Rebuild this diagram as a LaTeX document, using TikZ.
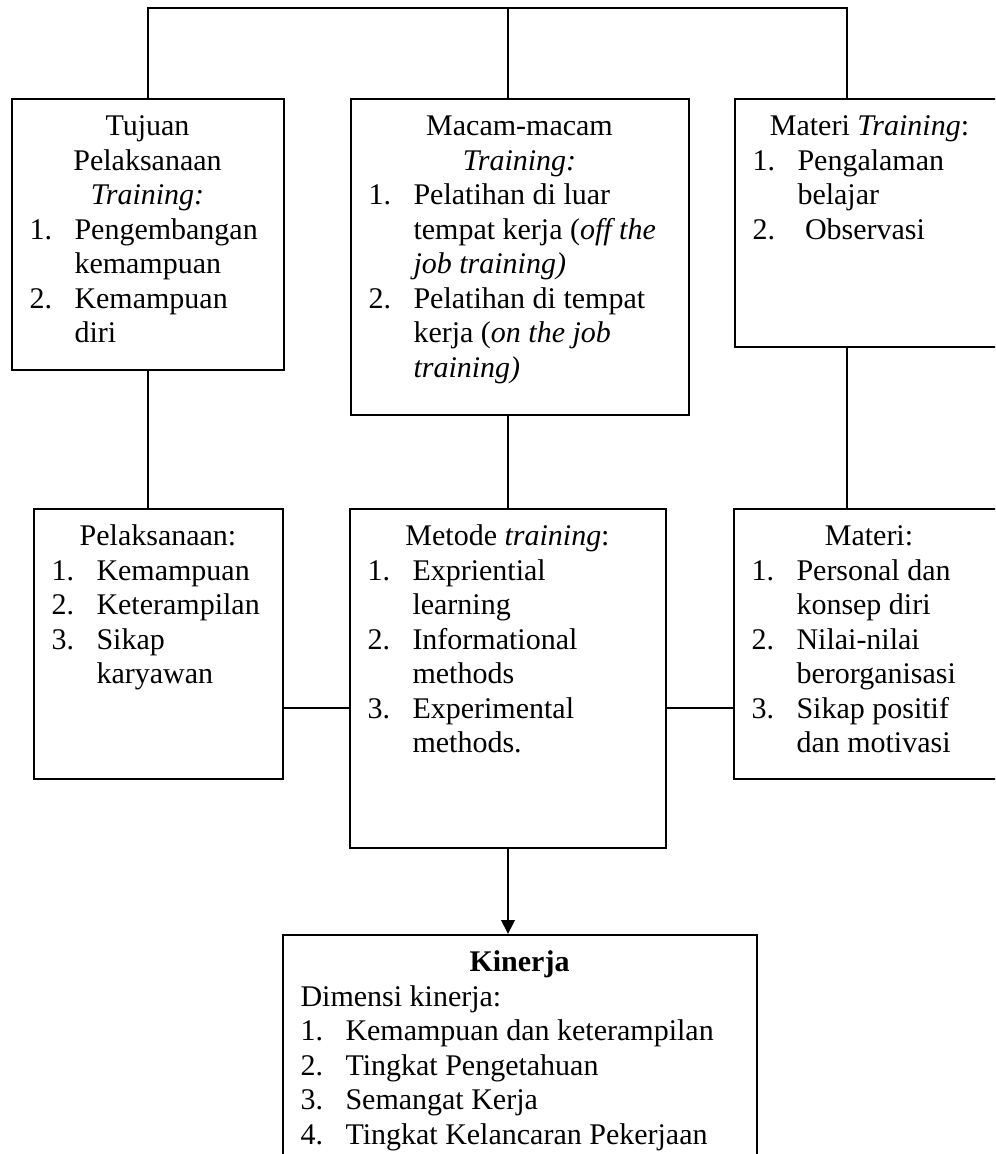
\documentclass[tikz,border=0pt]{standalone}
\usepackage{fontspec}
\setmainfont{Liberation Serif}
\usetikzlibrary{arrows.meta, positioning}

\newlength{\unitpx}
\setlength{\unitpx}{0.4pt}
\newcommand{\judul}[1]{{\centering\strut #1\par}}

\begin{document}
\begin{tikzpicture}[
  x=0.4pt, y=-0.4pt,
  kotak/.style={rectangle, draw, line width=0.8pt, anchor=north west, inner sep=0pt},
  isi/.style={inner sep=0pt, font=\fontsize{12}{13.8}\selectfont},
  garis/.style={line width=0.8pt},
  >={Triangle[length=5.6pt, width=5.4pt]}
]
\useasboundingbox (0,0) rectangle (995,1154);
\clip (0,0) rectangle (995,1154);

% kotak-kotak
\node[kotak, minimum width=272\unitpx, minimum height=271\unitpx] (tujuan) at (11,98) {};
\node[kotak, minimum width=338\unitpx, minimum height=316\unitpx] (macam) at (350,98) {};
\node[kotak, minimum width=270\unitpx, minimum height=248\unitpx] (materiT) at (734,98) {};
\node[kotak, minimum width=249\unitpx, minimum height=270\unitpx] (pelaks) at (33,508) {};
\node[kotak, minimum width=316\unitpx, minimum height=339\unitpx] (metode) at (349,508) {};
\node[kotak, minimum width=271\unitpx, minimum height=270\unitpx] (materi) at (733,508) {};
\node[kotak, minimum width=474\unitpx, minimum height=250\unitpx] (kinerja) at (282,934) {};

% isi kotak
\node[isi, below right=13\unitpx and 18\unitpx of tujuan.north west] {\parbox[t]{236\unitpx}{%
  \judul{Tujuan\\ Pelaksanaan\\ \textit{Training:}}
  \begin{tabular}[t]{@{}p{18pt}@{}l@{}}
  1. & Pengembangan\\
     & kemampuan\\
  2. & Kemampuan\\
     & diri
  \end{tabular}}};
\node[isi, below right=13\unitpx and 18\unitpx of macam.north west] {\parbox[t]{302\unitpx}{%
  \judul{Macam-macam\\ \textit{Training:}}
  \begin{tabular}[t]{@{}p{18pt}@{}l@{}}
  1. & Pelatihan di luar\\
     & tempat kerja (\textit{off the}\\
     & \textit{job training)}\\
  2. & Pelatihan di tempat\\
     & kerja (\textit{on the job}\\
     & \textit{training)}
  \end{tabular}}};
\node[isi, below right=13\unitpx and 18\unitpx of materiT.north west] {\parbox[t]{234\unitpx}{%
  \judul{Materi \textit{Training}:}
  \begin{tabular}[t]{@{}p{18pt}@{}l@{}}
  1. & Pengalaman\\
     & belajar\\
  2. & \ Observasi
  \end{tabular}}};
\node[isi, below right=13\unitpx and 18\unitpx of pelaks.north west] {\parbox[t]{213\unitpx}{%
  \judul{Pelaksanaan:}
  \begin{tabular}[t]{@{}p{18pt}@{}l@{}}
  1. & Kemampuan\\
  2. & Keterampilan\\
  3. & Sikap\\
     & karyawan
  \end{tabular}}};
\node[isi, below right=13\unitpx and 18\unitpx of metode.north west] {\parbox[t]{280\unitpx}{%
  \judul{Metode \textit{training}:}
  \begin{tabular}[t]{@{}p{18pt}@{}l@{}}
  1. & Expriential\\
     & learning\\
  2. & Informational\\
     & methods\\
  3. & Experimental\\
     & methods.
  \end{tabular}}};
\node[isi, below right=13\unitpx and 18\unitpx of materi.north west] {\parbox[t]{235\unitpx}{%
  \judul{Materi:}
  \begin{tabular}[t]{@{}p{18pt}@{}l@{}}
  1. & Personal dan\\
     & konsep diri\\
  2. & Nilai-nilai\\
     & berorganisasi\\
  3. & Sikap positif\\
     & dan motivasi
  \end{tabular}}};
\node[isi, below right=13\unitpx and 18\unitpx of kinerja.north west] {\parbox[t]{438\unitpx}{%
  \judul{\textbf{Kinerja}}
  \begin{tabular}[t]{@{}p{18pt}@{}l@{}}
  \multicolumn{2}{@{}l@{}}{Dimensi kinerja:}\\
  1. & Kemampuan dan keterampilan\\
  2. & Tingkat Pengetahuan\\
  3. & Semangat Kerja\\
  4. & Tingkat Kelancaran Pekerjaan
  \end{tabular}}};

% garis penghubung
\coordinate (busM) at (508,7.5);
\coordinate (busR) at (847,7.5);
\coordinate (barisT) at (0,708);

\draw[garis] (tujuan.north) |- (busR) -- (busR |- materiT.north);
\draw[garis] (busM) -- (busM |- macam.north);
\draw[garis] (tujuan.south) -- (tujuan.south |- pelaks.north);
\draw[garis] (metode.north |- macam.south) -- (metode.north);
\draw[garis] (busR |- materiT.south) -- (busR |- materi.north);
\draw[garis] (pelaks.east |- barisT) -- (metode.west |- barisT);
\draw[garis] (metode.east |- barisT) -- (materi.west |- barisT);
\draw[garis, ->] (metode.south) -- (kinerja.north -| metode.south);
\end{tikzpicture}
\end{document}
